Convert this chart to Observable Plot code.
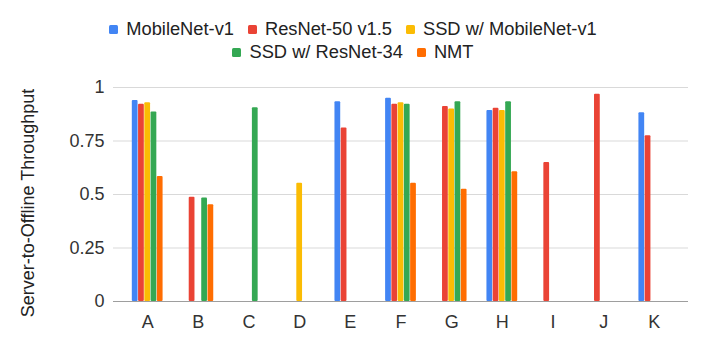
<!DOCTYPE html>
<html><head><meta charset="utf-8">
<script src="https://cdn.jsdelivr.net/npm/d3@7"></script>
<script src="https://cdn.jsdelivr.net/npm/@observablehq/plot@0.6"></script>
<style>
body{margin:0;background:#fff;font-family:"Liberation Sans",Arial,sans-serif;}
#legend{height:70px;box-sizing:border-box;padding-top:17px;font-size:18.3px;line-height:23px;color:#222;text-align:center;width:706px}
.row{white-space:nowrap}
.item{display:inline-block;margin:0 7px}
.sw{display:inline-block;width:9px;height:9px;border-radius:1.5px;margin-right:8px;position:relative;top:-1px}
#chart{position:relative;width:706px;height:281px}
#chart svg{position:absolute;left:0;top:0}
</style></head><body>
<div id="legend"></div><div id="chart"></div>
<script>
const categories = ["A","B","C","D","E","F","G","H","I","J","K"];
const series = ["MobileNet-v1","ResNet-50 v1.5","SSD w/ MobileNet-v1","SSD w/ ResNet-34","NMT"];
const colors = ["#4285F4","#EA4335","#FBBC04","#34A853","#FF6D01"];
const mobilenetV1  = [0.939, null,  null,  null,  0.933, 0.950, null,  0.893, null,  null,  0.882];
const resnet50     = [0.922, 0.487, null,  null,  0.811, 0.922, 0.911, 0.903, 0.650, 0.969, 0.774];
const ssdMobilenet = [0.929, null,  null,  0.553, null,  0.929, 0.900, 0.893, null,  null,  null];
const ssdResnet34  = [0.885, 0.484, 0.905, null,  null,  0.922, 0.933, 0.933, null,  null,  null];
const nmt          = [0.584, 0.452, null,  null,  null,  0.553, 0.525, 0.606, null,  null,  null];
const yTicks = [0, 0.25, 0.5, 0.75, 1];
const yTickLabels = ["0", "0.25", "0.5", "0.75", "1"];
const yLabel = "Server-to-Offline Throughput";

const seriesValues = [mobilenetV1, resnet50, ssdMobilenet, ssdResnet34, nmt];
const rows = [];
categories.forEach((c, i) => {
  series.forEach((s, j) => {
    const v = seriesValues[j][i];
    if (v != null) rows.push({category: c, series: s, value: v});
  });
});

// Legend
const legend = document.getElementById("legend");
[[0,1,2],[3,4]].forEach(idx => {
  const r = document.createElement("div");
  r.className = "row";
  idx.forEach(j => {
    const it = document.createElement("span");
    it.className = "item";
    const sw = document.createElement("span");
    sw.className = "sw";
    sw.style.background = colors[j];
    it.appendChild(sw);
    it.appendChild(document.createTextNode(series[j]));
    r.appendChild(it);
  });
  legend.appendChild(r);
});

const common = {
  width: 706,
  height: 281,
  marginTop: 17,
  marginBottom: 50,
  marginLeft: 113,
  marginRight: 18,
  style: {fontFamily: "'Liberation Sans', Arial, sans-serif", fontSize: "18px", color: "#333", background: "transparent"}
};

// Background layer: y axis, gridlines, baseline
const back = Plot.plot({
  ...common,
  y: {domain: [0, 1], ticks: yTicks, tickFormat: (d) => yTickLabels[yTicks.indexOf(d)], tickSize: 0, tickPadding: 9, label: null},
  marks: [
    Plot.ruleY(yTicks.slice(1), {stroke: "#d9d9d9", strokeWidth: 1}),
    Plot.ruleY([0], {stroke: "#9e9e9e", strokeWidth: 1})
  ]
});
d3.select(back).append("text")
  .attr("transform", "translate(28,133) rotate(-90)")
  .attr("text-anchor", "middle")
  .attr("dy", "0.35em")
  .attr("fill", "#222")
  .style("font-size", "18px")
  .text(yLabel);

// Foreground layer: grouped bars + category axis
const front = Plot.plot({
  ...common,
  facet: {data: rows, x: "category"},
  fx: {domain: categories, paddingInner: 0, paddingOuter: 0.175, round: false, label: null, tickSize: 0, tickPadding: 14, axis: "bottom"},
  x: {domain: series, paddingInner: 0.08, paddingOuter: 1.59, round: false, axis: null},
  y: {domain: [0, 1], axis: null},
  color: {domain: series, range: colors},
  marks: [
    Plot.barY(rows, {x: "series", y: "value", fill: "series", rx: 1})
  ]
});

const holder = document.getElementById("chart");
holder.appendChild(back);
holder.appendChild(front);
</script>
</body></html>
